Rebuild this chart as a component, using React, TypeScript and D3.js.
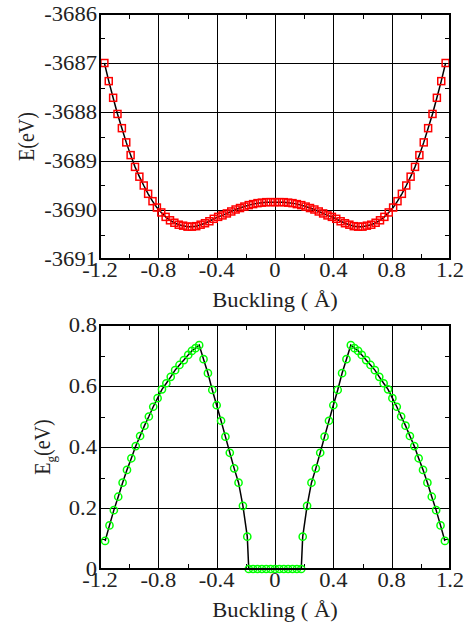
import React from "react";
import { scaleLinear, line } from "d3";

// buckling (Å) for the total energy curve
const energyX = [
  -1.17, -1.14, -1.11, -1.08, -1.05, -1.02, -0.99, -0.96, -0.93, -0.9,
  -0.87, -0.84, -0.81, -0.78, -0.75, -0.72, -0.69, -0.66, -0.63, -0.6,
  -0.57, -0.54, -0.51, -0.48, -0.45, -0.42, -0.39, -0.36, -0.33, -0.3,
  -0.27, -0.24, -0.21, -0.18, -0.15, -0.12, -0.09, -0.06, -0.03, 0,
  0.03, 0.06, 0.09, 0.12, 0.15, 0.18, 0.21, 0.24, 0.27, 0.3,
  0.33, 0.36, 0.39, 0.42, 0.45, 0.48, 0.51, 0.54, 0.57, 0.6,
  0.63, 0.66, 0.69, 0.72, 0.75, 0.78, 0.81, 0.84, 0.87, 0.9,
  0.93, 0.96, 0.99, 1.02, 1.05, 1.08, 1.11, 1.14, 1.17,
];

// total energy E (eV)
const energyE = [
  -3687.0, -3687.37, -3687.71, -3688.04, -3688.33, -3688.62, -3688.88, -3689.12, -3689.32, -3689.5,
  -3689.67, -3689.82, -3689.95, -3690.05, -3690.14, -3690.21, -3690.26, -3690.3, -3690.32, -3690.34,
  -3690.34, -3690.33, -3690.3, -3690.27, -3690.23, -3690.18, -3690.14, -3690.11, -3690.07, -3690.03,
  -3689.99, -3689.96, -3689.93, -3689.9, -3689.88, -3689.86, -3689.85, -3689.84, -3689.84, -3689.84,
  -3689.84, -3689.84, -3689.85, -3689.86, -3689.88, -3689.9, -3689.93, -3689.96, -3689.99, -3690.03,
  -3690.07, -3690.11, -3690.14, -3690.18, -3690.23, -3690.27, -3690.3, -3690.33, -3690.34, -3690.34,
  -3690.32, -3690.3, -3690.26, -3690.21, -3690.14, -3690.05, -3689.95, -3689.82, -3689.67, -3689.5,
  -3689.32, -3689.12, -3688.88, -3688.62, -3688.33, -3688.04, -3687.71, -3687.37, -3687.0,
];

// buckling (Å) for the band gap curve
const gapX = [
  -1.165, -1.135, -1.105, -1.075, -1.045, -1.015, -0.985, -0.955, -0.925, -0.895,
  -0.865, -0.835, -0.805, -0.775, -0.745, -0.715, -0.685, -0.655, -0.625, -0.595,
  -0.57, -0.545, -0.52,
  -0.49, -0.46, -0.43, -0.4, -0.37, -0.34, -0.31, -0.28, -0.25, -0.22, -0.19,
  -0.18, -0.15, -0.12, -0.09, -0.06, -0.03, 0, 0.03, 0.06, 0.09, 0.12, 0.15, 0.18,
  0.19, 0.22, 0.25, 0.28, 0.31, 0.34, 0.37, 0.4, 0.43, 0.46, 0.49,
  0.52, 0.545, 0.57,
  0.595, 0.625, 0.655, 0.685, 0.715, 0.745, 0.775, 0.805, 0.835, 0.865,
  0.895, 0.925, 0.955, 0.985, 1.015, 1.045, 1.075, 1.105, 1.135, 1.165,
];

// band gap Eg (eV)
const gapE = [
  0.092, 0.143, 0.193, 0.237, 0.283, 0.325, 0.363, 0.403, 0.436, 0.47,
  0.5, 0.532, 0.56, 0.589, 0.609, 0.63, 0.652, 0.669, 0.685, 0.702,
  0.715, 0.724, 0.734,
  0.688, 0.642, 0.587, 0.537, 0.486, 0.434, 0.381, 0.33, 0.283, 0.207, 0.106,
  0, 0, 0, 0, 0, 0, 0, 0, 0, 0, 0, 0, 0,
  0.106, 0.207, 0.283, 0.33, 0.381, 0.434, 0.486, 0.537, 0.587, 0.642, 0.688,
  0.734, 0.724, 0.715,
  0.702, 0.685, 0.669, 0.652, 0.63, 0.609, 0.589, 0.56, 0.532, 0.5,
  0.47, 0.436, 0.403, 0.363, 0.325, 0.283, 0.237, 0.193, 0.143, 0.092,
];

const bucklingTicks = [-1.2, -0.8, -0.4, 0, 0.4, 0.8, 1.2];
const bucklingMinor = [-1.0, -0.6, -0.2, 0.2, 0.6, 1.0];
const energyTicks = [-3691, -3690, -3689, -3688, -3687, -3686];
const energyMinor = [-3690.5, -3689.5, -3688.5, -3687.5, -3686.5];
const gapTicks = [0, 0.2, 0.4, 0.6, 0.8];
const gapMinor = [0.1, 0.3, 0.5, 0.7];

const FONT = "'Liberation Serif', 'Times New Roman', serif";
const SX = 1.13; // the original figure is stretched a little sideways
const LEFT = 100;
const RIGHT = 450;

const Panel = ({ xs, ys, top, bottom, yDomain, yTicks, yMinor, marker, color, yLabel, labelX }) => {
  const x = scaleLinear().domain([-1.2, 1.2]).range([LEFT, RIGHT]);
  const y = scaleLinear().domain(yDomain).range([bottom, top]);
  const pts = xs.map((v, i) => [x(v), y(ys[i])]);
  const path = line()(pts);
  const crisp = (v) => Math.round(v) + 0.5;

  return (
    <g>
      {/* grid at major ticks */}
      {bucklingTicks.slice(1, -1).map((t) => (
        <line key={"gx" + t} x1={crisp(x(t))} x2={crisp(x(t))} y1={top} y2={bottom} stroke="#000" strokeWidth={1} />
      ))}
      {yTicks.slice(1, -1).map((t) => (
        <line key={"gy" + t} x1={LEFT} x2={RIGHT} y1={crisp(y(t))} y2={crisp(y(t))} stroke="#000" strokeWidth={1} />
      ))}

      {/* minor ticks, inside on every side */}
      {bucklingMinor.map((t) => (
        <g key={"mx" + t}>
          <line x1={crisp(x(t))} x2={crisp(x(t))} y1={bottom} y2={bottom - 5} stroke="#000" strokeWidth={1} />
          <line x1={crisp(x(t))} x2={crisp(x(t))} y1={top} y2={top + 5} stroke="#000" strokeWidth={1} />
        </g>
      ))}
      {yMinor.map((t) => (
        <g key={"my" + t}>
          <line x1={LEFT} x2={LEFT + 5} y1={crisp(y(t))} y2={crisp(y(t))} stroke="#000" strokeWidth={1} />
          <line x1={RIGHT} x2={RIGHT - 5} y1={crisp(y(t))} y2={crisp(y(t))} stroke="#000" strokeWidth={1} />
        </g>
      ))}

      <path d={path} fill="none" stroke="#000" strokeWidth={1.5} />

      {pts.map(([px, py], i) =>
        marker === "square" ? (
          <rect key={i} x={px - 3.5} y={py - 3.5} width={7} height={7} fill="none" stroke={color} strokeWidth={1.5} />
        ) : (
          <circle key={i} cx={px} cy={py} r={3.6} fill="none" stroke={color} strokeWidth={1.5} />
        )
      )}

      <rect x={LEFT} y={top} width={RIGHT - LEFT} height={bottom - top} fill="none" stroke="#000" strokeWidth={2} />

      {/* tick labels */}
      {bucklingTicks.map((t) => (
        <text
          key={"lx" + t}
          transform={`translate(${x(t)},${bottom + 18}) scale(${SX},1)`}
          textAnchor="middle"
          fontFamily={FONT}
          fontSize={20}
          fill="#222"
        >
          {String(t)}
        </text>
      ))}
      {yTicks.map((t) => (
        <text
          key={"ly" + t}
          transform={`translate(${LEFT - 3},${y(t) + 7}) scale(${SX},1)`}
          textAnchor="end"
          fontFamily={FONT}
          fontSize={20}
          fill="#222"
        >
          {String(t)}
        </text>
      ))}

      <text
        transform={`translate(${(LEFT + RIGHT) / 2},${bottom + 47.5}) scale(${SX},1)`}
        textAnchor="middle"
        fontFamily={FONT}
        fontSize={20}
        fill="#222"
      >
        Buckling ( Å)
      </text>

      <text
        transform={`translate(${labelX},${(top + bottom) / 2}) scale(${SX},1) rotate(-90)`}
        textAnchor="middle"
        fontFamily={FONT}
        fontSize={20}
        fill="#222"
      >
        {yLabel}
      </text>
    </g>
  );
};

export default function App() {
  return (
    <svg width={469} height={622} style={{ position: "absolute", left: 0, top: 0, background: "#fff" }}>
      <rect width={469} height={622} fill="#fff" />
      <Panel
        xs={energyX}
        ys={energyE}
        top={14}
        bottom={259}
        yDomain={[-3691, -3686]}
        yTicks={energyTicks}
        yMinor={energyMinor}
        marker="square"
        color="#ff0000"
        yLabel="E(eV)"
        labelX={33.5}
      />
      <Panel
        xs={gapX}
        ys={gapE}
        top={325}
        bottom={569}
        yDomain={[0, 0.8]}
        yTicks={gapTicks}
        yMinor={gapMinor}
        marker="circle"
        color="#00ff00"
        yLabel={
          <>
            E
            <tspan fontSize={13} dy={5}>g</tspan>
            <tspan dy={-5}>(eV)</tspan>
          </>
        }
        labelX={50}
      />
    </svg>
  );
}
